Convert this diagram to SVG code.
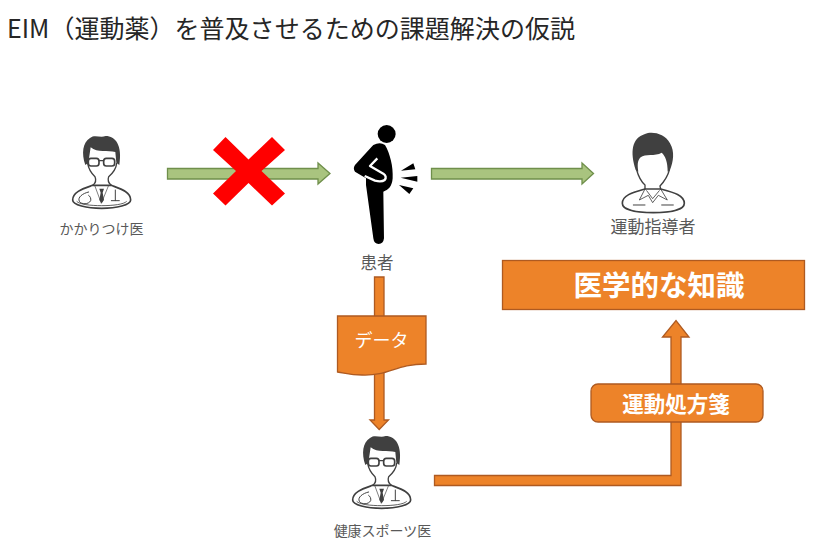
<svg xmlns="http://www.w3.org/2000/svg" width="817" height="552" viewBox="0 0 817 552">
<style>
text{font-family:"Noto Sans CJK JP","Noto Sans",sans-serif}
.lbl{font-size:14px;fill:#595959;text-anchor:middle}
.o{fill:#ED8329;stroke:#AE5A21;stroke-width:1.3}
.g{fill:#A9C47F;stroke:#6F8F4B;stroke-width:1.3}
.w{fill:#fff;text-anchor:middle}
.ln{fill:none;stroke:#404040;stroke-width:4;stroke-linejoin:round;stroke-linecap:round}
.dk{fill:#404040}
</style>
<defs>
<g id="doc">
<path d="M158 226C130 236 98 245 98 270C98 285 140 295 185 295C230 295 272 285 272 270C272 245 240 236 214 226Z" fill="#fff" stroke="#404040" stroke-width="5"/>
<path d="M110 274C118 283 150 287 185 287C220 287 252 283 260 274" fill="none" stroke="#404040" stroke-width="2.500"/>
<path class="ln" d="M143 160C146 178 152 188 165 200C170 212 166 220 158 226M230 160C228 178 220 188 206 200C202 212 206 220 214 226"/>
<path class="dk" d="M136 165C124 130 128 98 150 84C165 72 180 85 197 78C226 78 248 105 238 165L229 158L226 126C205 120 172 130 152 112L145 158Z"/>
<rect class="ln" x="145" y="145" width="32" height="23" rx="8" style="stroke-width:5"/>
<rect class="ln" x="191" y="145" width="33" height="23" rx="8" style="stroke-width:5"/>
<path class="ln" d="M177 152H191" style="stroke-width:4"/>
<path class="dk" d="M178 236H192L188 248L192 270L185 280L178 270L182 248Z"/>
<path class="ln" d="M164 226L184 280L206 226" style="stroke-width:2"/>
<path class="ln" d="M146 246C128 250 112 262 118 274C124 284 146 284 152 272C154 266 150 258 146 256" style="stroke-width:3"/>
<path class="ln" d="M226 240V272M214 272H238" style="stroke-width:3"/>
</g>
</defs>
<text x="7" y="38" font-size="25" fill="#262626" textLength="568" lengthAdjust="spacingAndGlyphs">EIM（運動薬）を普及させるための課題解決の仮説</text>
<g id="connectors">
<path class="g" d="M167.500 168.500H318V163L330 173.500L318 184V179H167.500Z"/>
<path class="g" d="M431.500 168.500H582V163L593.500 173.500L582 184V179H431.500Z"/>
<path class="o" d="M374.500 277H384V420H388.500L379.200 429.500L370 420H374.500Z"/>
<path class="o" d="M434.500 475.500H671V337H662.500L676 320.500L689 337H681V485.500H434.500Z"/>
</g>
<g id="cross"><path fill="#FF0000" d="M225.500 137L248.500 159.500L272 137L285 150L261.500 171L285 193.500L272 205.500L248.500 183L225.500 205.500L213 193.500L236 171L213 150Z"/></g>
<g id="doctor1"><use href="#doc" transform="translate(40 110) scale(.3333)"/><text class="lbl" x="101.500" y="234">かかりつけ医</text></g>
<g id="patient">
<g transform="translate(330 110) scale(.3333)">
<circle cx="170" cy="72" r="27"/>
<path d="M130 105Q150 95 165 105C180 130 190 170 188 205C186 230 175 240 160 245L162 385Q160 402 146 402Q132 402 130 385L108 225V205L75 185Q68 175 75 165L125 110Z"/>
<path d="M142 145L120 168L160 191Q172 200 164 210Q155 217 135 212L104 198" fill="none" stroke="#fff" stroke-width="7" stroke-linejoin="round"/>
<path d="M213 182L250 160L256 178ZM212 203L262 198V215ZM207 225L250 235L238 252Z"/>
</g>
<text class="lbl" x="377" y="269" style="font-size:16.500px">患者</text>
</g>
<g id="trainer">
<g transform="translate(590 120) scale(.3333)">
<path d="M165 207C130 217 97 225 97 250C97 270 140 278 190 278C240 278 283 270 283 250C283 225 250 217 212 207Z" fill="#fff" stroke="#404040" stroke-width="5"/>
<path class="ln" d="M140 150C145 168 150 182 165 195L165 207M238 150C233 170 222 185 210 198L212 207"/>
<path class="dk" d="M137 150C120 95 125 55 165 42C185 33 225 40 240 70C255 95 250 125 240 150L233 155C233 125 226 108 215 98C195 110 165 100 152 112C142 122 142 135 145 155Z"/>
<path class="ln" d="M165 207L148 240L175 226L188 248L205 226L232 240L212 207M170 212L188 236L208 212" style="stroke-width:2.500"/>
<path class="ln" d="M130 255H165M215 255H250" style="stroke-width:3"/>
</g>
<text class="lbl" x="653" y="233" style="font-size:17px">運動指導者</text>
</g>
<g id="data">
<path class="o" d="M337.500 316H426V364C395 364 390 376 362 375C350 375 345 373 337.500 372Z"/>
<text class="w" x="381.500" y="347" font-size="18">データ</text>
</g>
<g id="doctor2"><use href="#doc" transform="translate(320 410) scale(.3333)"/><text class="lbl" x="382.500" y="536">健康スポーツ医</text></g>
<g id="knowledge">
<rect class="o" x="502.500" y="260.500" width="302" height="49"/>
<text class="w" x="659" y="296" font-size="28.500" font-weight="700">医学的な知識</text>
</g>
<g id="prescription">
<rect class="o" x="591" y="384" width="172" height="38" rx="7"/>
<text class="w" x="676" y="412" font-size="21.500" font-weight="700">運動処方箋</text>
</g>
</svg>
